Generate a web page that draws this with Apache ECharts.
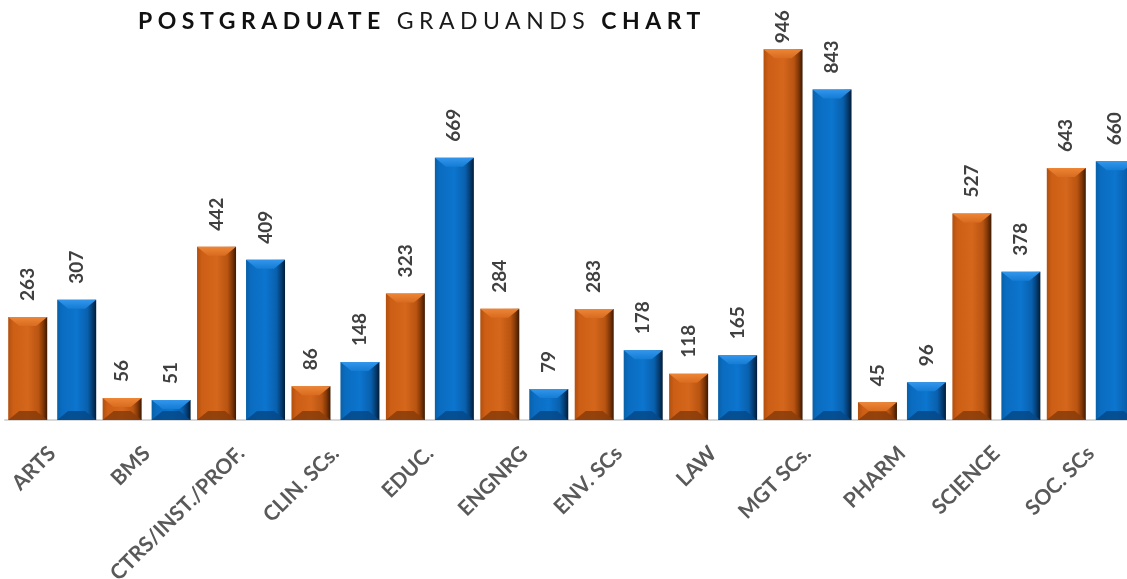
<!DOCTYPE html>
<html><head><meta charset="utf-8">
<script src="https://cdn.jsdelivr.net/npm/echarts@6/dist/echarts.min.js"></script>
<style>html,body{margin:0;padding:0;background:#fff;overflow:hidden}#c{width:1127px;height:579px}</style>
</head><body><div id="c"></div>
<script>
const categories = ['ARTS','BMS','CTRS/INST./PROF.','CLIN. SCs.','EDUC.','ENGNRG','ENV. SCs','LAW','MGT SCs.','PHARM','SCIENCE','SOC. SCs'];
const seriesOrange = [263,56,442,86,323,284,283,118,946,45,527,643];
const seriesBlue = [307,51,409,148,669,79,178,165,843,96,378,660];
const titleParts = ['POSTGRADUATE','GRADUANDS','CHART'];

// letter spacing for the title font only (canvas native letterSpacing)
(function(){
  const P = CanvasRenderingContext2D.prototype;
  const ft = P.fillText, mt = P.measureText;
  const sp = (ctx)=>{ try { ctx.letterSpacing = /\b23px/.test(ctx.font) ? '5.5px' : '0px'; } catch(e){} };
  P.fillText = function(t,x,y,m){ sp(this); return m===undefined ? ft.call(this,t,x,y) : ft.call(this,t,x,y,m); };
  P.measureText = function(t){ sp(this); return mt.call(this,t); };
})();

const BW = 39, OFF = 24.5, LDIST = 16, YMAX = 1000;
function hGrad(stops){ return new echarts.graphic.LinearGradient(0,0,1,0, stops.map(s=>({offset:s[0], color:s[1]}))); }
const orangeBody = hGrad([[0,'#B24F0E'],[0.12,'#CC5E15'],[0.5,'#D5671C'],[0.78,'#B95411'],[0.9,'#803708'],[1,'#3C1902']]);
const blueBody = hGrad([[0,'#0860A8'],[0.12,'#0A6CC0'],[0.5,'#0C75CE'],[0.78,'#0960AD'],[0.9,'#053D72'],[1,'#011B36']]);

const labelStyle = {show:true, position:'top', rotate:90, align:'left', verticalAlign:'middle', distance:LDIST,
  color:'#404040', fontFamily:'Lato', fontWeight:'bold', fontSize:19};
// labels near the top of the plot are pulled closer to their bar so they stay inside the chart
function withLabelFit(arr){ return arr.map(v => v > 0.9*YMAX ? {value:v, label:{distance:6}} : v); }

const chart = echarts.init(document.getElementById('c'), null, {renderer:'canvas'});
chart.setOption({
  animation:false,
  title:{
    left:133, top:2,
    text:'{b|'+titleParts[0]+'} {r|'+titleParts[1]+'} {b|'+titleParts[2]+'}',
    textStyle:{fontSize:23, fontFamily:'Lato', color:'#111',
      rich:{
        b:{fontSize:23, fontFamily:'Lato', fontWeight:'bold', color:'#111'},
        r:{fontSize:23, fontFamily:'Lato', fontWeight:'normal', color:'#1a1a1a'}
      }}
  },
  grid:{left:5, width:1133, top:28, bottom:159, containLabel:false, outerBoundsMode:'none'},
  xAxis:{type:'category', data:categories,
    axisLine:{lineStyle:{color:'#D9D9D9', width:2}},
    axisTick:{show:false},
    axisLabel:{interval:0, rotate:45, margin:30, color:'#595959', fontFamily:'Lato', fontWeight:'bold', fontSize:21}
  },
  yAxis:{type:'value', min:0, max:YMAX, show:false, splitLine:{show:false}},
  series:[
    {type:'bar', name:'Series 1', data:withLabelFit(seriesOrange), barWidth:BW, barGap:'25.6%', itemStyle:{color:orangeBody}, label:labelStyle},
    {type:'bar', name:'Series 2', data:withLabelFit(seriesBlue), barWidth:BW, barGap:'25.6%', itemStyle:{color:blueBody}, label:labelStyle},
    {type:'custom', name:'bevel', silent:true, z:5,
      data: categories.map((c,i)=>[i, seriesOrange[i], seriesBlue[i]]),
      encode:{x:0, y:[1,2]},
      renderItem:function(params, api){
        const i = api.value(0);
        const base = api.coord([i,0]);
        const kids = [];
        [[1,-1,['#EE8636','#D86B1F'],'#8A3C09'],[2,1,['#3296EC','#157CD4'],'#05498A']].forEach(function(d){
          const top = api.coord([i, api.value(d[0])]);
          const cx = base[0] + d[1]*OFF;
          const x0 = cx-BW/2, x1 = cx+BW/2, y0 = top[1], y1 = base[1];
          const h = Math.min(9, (y1-y0)/2), ins = 11;
          kids.push({type:'polygon', shape:{points:[[x0,y0],[x1,y0],[x1-ins,y0+h],[x0+ins,y0+h]]},
            style:{fill:new echarts.graphic.LinearGradient(0,0,0,1,[{offset:0,color:d[2][0]},{offset:1,color:d[2][1]}])}});
          kids.push({type:'polygon', shape:{points:[[x0+ins,y1-h],[x1-ins,y1-h],[x1,y1],[x0,y1]]},
            style:{fill:d[3], opacity:0.85}});
        });
        return {type:'group', children:kids};
      }
    }
  ]
});
</script></body></html>
